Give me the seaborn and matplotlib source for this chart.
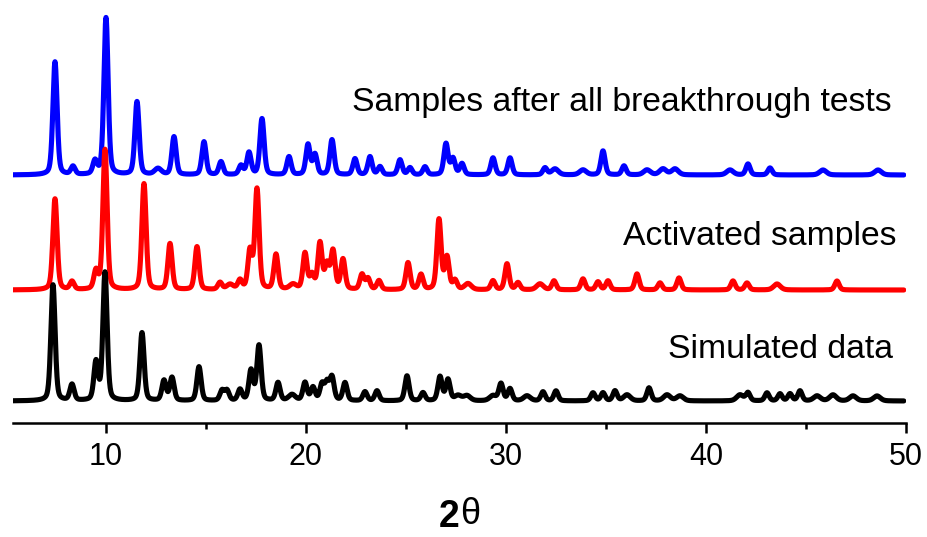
import numpy as np
import pandas as pd
import matplotlib
matplotlib.use("Agg")
import matplotlib.pyplot as plt
import seaborn as sns

# Powder XRD patterns: peak positions (2θ, degrees) and peak heights (a.u.)
two_theta_range = (5.35, 49.9)

after_pos = [7.45, 8.35, 9.45, 10.0, 11.55, 12.6, 13.4, 14.9, 15.75, 16.75, 17.15, 17.8,
             19.15, 20.1, 20.45, 21.3, 22.45, 23.2, 23.7, 24.7, 25.2, 25.95, 27.0, 27.35,
             27.8, 29.35, 30.2, 31.95, 32.45, 33.85, 34.85, 35.9, 37.05, 37.85, 38.45,
             41.2, 42.1, 43.2, 45.85, 48.6]
after_int = [113, 8, 13, 157, 73, 6, 38, 33, 13, 9, 22, 56,
             18, 30, 20, 35, 16, 18, 8, 15, 7, 8, 31, 16,
             11, 17, 17, 7, 6, 5, 24, 9, 5, 6, 6,
             5, 11, 7, 5, 5]

activated_pos = [7.45, 8.3, 9.5, 9.95, 11.9, 13.2, 14.55, 15.7, 16.2, 16.7, 17.2, 17.55,
                 18.5, 19.35, 19.95, 20.3, 20.7, 21.05, 21.35, 21.85, 22.8, 23.1, 23.65,
                 25.1, 25.75, 26.65, 27.05, 27.45, 28.1, 29.35, 30.05, 30.6, 31.7, 32.4,
                 33.85, 34.6, 35.1, 36.55, 37.7, 38.65, 41.35, 42.05, 43.55, 46.55]
activated_int = [91, 8, 18, 140, 106, 46, 43, 7, 5, 9, 38, 100,
                 35, 5, 36, 14, 46, 24, 38, 30, 15, 11, 9,
                 27, 15, 70, 32, 9, 6, 9, 26, 7, 6, 9,
                 11, 8, 9, 16, 7, 12, 9, 7, 6, 9]

simulated_pos = [7.35, 8.3, 9.5, 9.95, 11.8, 12.9, 13.3, 14.65, 15.8, 16.05, 16.7, 17.25,
                 17.65, 18.6, 19.3, 19.95, 20.35, 20.8, 21.05, 21.3, 21.95, 22.95, 23.55,
                 25.05, 25.85, 26.7, 27.1, 27.6, 28.05, 29.35, 29.75, 30.2, 31.05, 31.85,
                 32.5, 34.35, 34.85, 35.45, 36.05, 37.15, 38.05, 38.7, 41.7, 42.1, 43.05,
                 43.7, 44.2, 44.7, 45.55, 46.35, 47.35, 48.55]
simulated_int = [116, 16, 38, 128, 68, 20, 23, 34, 10, 10, 11, 30,
                 55, 18, 6, 18, 13, 16, 17, 23, 18, 9, 10,
                 25, 8, 24, 21, 5, 5, 5, 17, 12, 5, 9,
                 10, 8, 8, 10, 6, 13, 6, 5, 6, 8, 8,
                 7, 7, 10, 5, 6, 5, 5]

pattern_names = ["Samples after all breakthrough tests", "Activated samples", "Simulated data"]
pattern_offsets = [248, 133, 22]
pattern_colors = ["#0000ff", "#ff0000", "#000000"]


def profile(x, pos, hts, fwhm=0.25, eta=0.35):
    """Pseudo-Voigt sum of reflections."""
    y = np.zeros_like(x)
    for p, h in zip(pos, hts):
        w = fwhm if h > 6 else fwhm * 1.6
        g = np.exp(-4 * np.log(2) * ((x - p) / w) ** 2)
        lo = 1.0 / (1.0 + 4 * ((x - p) / w) ** 2)
        y += h * (eta * lo + (1 - eta) * g)
    return y


x = np.arange(two_theta_range[0], two_theta_range[1], 0.01)
frames = []
for name, pos, hts, off in zip(pattern_names,
                               [after_pos, activated_pos, simulated_pos],
                               [after_int, activated_int, simulated_int],
                               pattern_offsets):
    frames.append(pd.DataFrame({"two_theta": x,
                                "intensity": profile(x, pos, hts) + off,
                                "pattern": name}))
df = pd.concat(frames, ignore_index=True)

sns.set_style("white")
plt.rcParams["font.family"] = ["Liberation Sans", "DejaVu Sans"]
plt.rcParams["text.color"] = "black"
plt.rcParams["xtick.color"] = "black"

fig = plt.figure(figsize=(9.28, 5.37), dpi=100)
ax = fig.add_axes([13 / 928, 114 / 537, (906 - 13) / 928, 423 / 537])

sns.lineplot(data=df, x="two_theta", y="intensity", hue="pattern",
             hue_order=pattern_names, palette=dict(zip(pattern_names, pattern_colors)),
             estimator=None, lw=3.7, legend=False, ax=ax)

ax.set_xlim(5.35, 50)
ax.set_ylim(0, 423)
for s in ["left", "right", "top"]:
    ax.spines[s].set_visible(False)
ax.spines["bottom"].set_linewidth(1.8)
ax.spines["bottom"].set_color("black")
ax.set_yticks([])
ax.set_xticks([10, 20, 30, 40, 50])
ax.set_xticks([15, 25, 35, 45], minor=True)
ax.tick_params(axis="x", which="major", direction="out", length=7.5, width=1.8,
               pad=6, labelsize=22, bottom=True, labelcolor="black")
ax.tick_params(axis="x", which="minor", direction="out", length=4, width=1.8, bottom=True)
for lab in ax.get_xticklabels():
    lab.set_fontfamily(["Liberation Sans Narrow", "Liberation Sans", "DejaVu Sans"])
    lab.set_fontstretch("condensed")
ax.set_xlabel("")
ax.set_ylabel("")

label_x = [892, 897, 893]
label_y = [103, 236, 349]
for name, xx, yy in zip(pattern_names, label_x, label_y):
    fig.text(xx / 928, 1 - yy / 537, name, ha="right", va="center", fontsize=24.3,
             color="black")

fig.text(460 / 928, 1 - 517 / 537, "2", ha="right", va="center", fontsize=27,
         fontweight="bold", color="black")
fig.text(460 / 928, 1 - 515 / 537, "θ", ha="left", va="center", fontsize=26,
         color="black",
         family=["Liberation Sans Narrow", "Liberation Sans", "DejaVu Sans"])

fig.savefig("out.png", dpi=100)
